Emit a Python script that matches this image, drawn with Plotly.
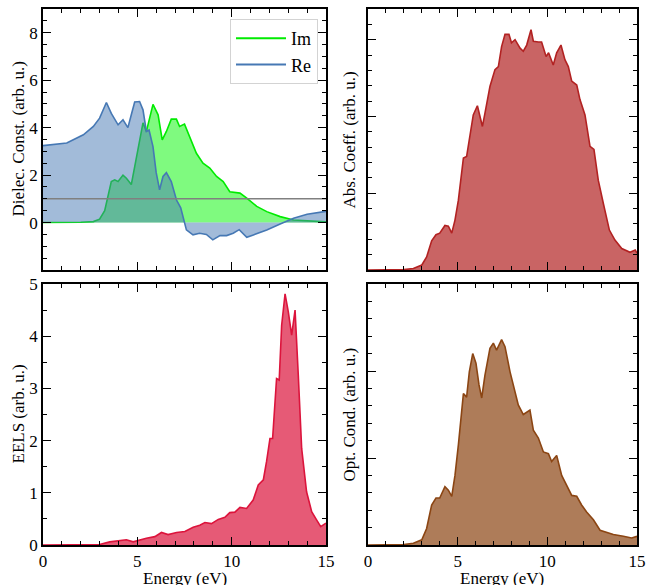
import plotly.graph_objects as go

# ---------------- data ----------------
re_E = [0.0, 1.26, 2.14, 2.67, 3.0, 3.36, 3.62, 3.98, 4.24, 4.5, 4.68, 4.86, 5.12, 5.3, 5.48, 5.62,
        5.83, 6.0, 6.18, 6.36, 6.54, 6.8, 7.07, 7.3, 7.6, 7.95, 8.3, 8.66, 9.0, 9.38, 9.73, 10.08,
        10.4, 10.8, 11.15, 11.86, 12.57, 13.28, 14.0, 15.0]
re_V = [3.24, 3.35, 3.70, 4.05, 4.40, 5.06, 4.60, 4.12, 4.33, 4.00, 4.54, 5.08, 5.10, 4.75, 3.84, 3.90,
        3.20, 2.10, 1.38, 1.94, 2.10, 1.73, 0.96, 0.62, -0.31, -0.52, -0.45, -0.50, -0.73, -0.55, -0.55, -0.45,
        -0.30, -0.62, -0.52, -0.31, -0.06, 0.18, 0.35, 0.47]

im_E = [0.0, 1.0, 2.0, 2.67, 3.0, 3.27, 3.45, 3.62, 3.8, 3.98, 4.24, 4.42, 4.68, 4.86, 5.05, 5.3,
        5.48, 5.66, 5.83, 6.1, 6.32, 6.54, 6.8, 7.07, 7.24, 7.5, 7.77, 8.13, 8.48, 8.84, 9.2, 9.55,
        9.9, 10.44, 10.8, 11.33, 11.86, 12.57, 13.28, 14.0, 15.0]
im_V = [0.0, 0.0, 0.01, 0.04, 0.14, 0.50, 1.20, 1.73, 1.80, 1.73, 2.00, 1.87, 1.60, 2.35, 3.20, 4.20,
        3.84, 4.50, 4.98, 4.54, 3.48, 3.84, 4.36, 4.36, 4.05, 4.15, 3.63, 2.92, 2.50, 2.30, 1.94, 1.73,
        1.30, 1.24, 1.03, 0.68, 0.46, 0.25, 0.11, 0.07, 0.03]

abs_E = [0.0, 1.0, 2.0, 2.53, 3.0, 3.27, 3.55, 3.79, 4.0, 4.29, 4.48, 4.67, 4.85, 5.04, 5.32, 5.5,
         5.69, 5.87, 6.1, 6.2, 6.38, 6.52, 6.8, 7.08, 7.27, 7.45, 7.64, 7.86, 8.0, 8.2, 8.48, 8.66,
         8.85, 9.09, 9.22, 9.5, 9.68, 9.93, 10.07, 10.33, 10.52, 10.76, 10.98, 11.17, 11.36, 11.64,
         11.82, 12.1, 12.38, 12.6, 12.84, 13.12, 13.46, 13.77, 14.15, 14.61, 14.9, 15.0]
abs_V = [0.0, 0.0, 0.005, 0.02, 0.065, 0.17, 0.38, 0.46, 0.48, 0.58, 0.57, 0.48, 0.65, 0.91, 1.46, 1.48,
         1.78, 2.02, 2.14, 2.04, 1.87, 2.04, 2.39, 2.61, 2.65, 2.91, 3.07, 3.07, 2.96, 3.00, 2.89, 2.85,
         2.93, 3.13, 2.98, 2.97, 2.97, 2.78, 2.83, 2.67, 2.83, 2.93, 2.74, 2.65, 2.46, 2.41,
         2.22, 2.02, 1.61, 1.57, 1.17, 0.87, 0.52, 0.39, 0.28, 0.23, 0.26, 0.22]

eels_E = [0.0, 1.0, 2.0, 3.0, 3.54, 3.89, 4.42, 4.78, 5.13, 5.48, 5.93, 6.28, 6.63, 7.08, 7.52, 7.96,
          8.31, 8.58, 8.93, 9.29, 9.64, 9.9, 10.17, 10.44, 10.79, 11.14, 11.41, 11.68, 11.85, 12.03,
          12.17, 12.38, 12.52, 12.65, 12.83, 13.0, 13.18, 13.36, 13.53, 13.71, 13.97, 14.24, 14.5,
          14.72, 15.0]
eels_V = [0.0, 0.0, 0.0, 0.01, 0.06, 0.08, 0.10, 0.06, 0.10, 0.13, 0.16, 0.24, 0.20, 0.24, 0.26, 0.34,
          0.38, 0.43, 0.41, 0.49, 0.53, 0.62, 0.63, 0.72, 0.70, 0.86, 1.15, 1.25, 1.60, 2.04,
          2.04, 3.19, 3.16, 4.21, 4.81, 4.47, 4.02, 4.50, 3.26, 1.85, 1.02, 0.64, 0.48,
          0.35, 0.42]

opt_E = [0.0, 1.0, 2.0, 2.53, 3.0, 3.27, 3.55, 3.79, 4.0, 4.29, 4.48, 4.67, 4.85, 5.04, 5.32, 5.5,
         5.65, 5.84, 6.02, 6.19, 6.34, 6.52, 6.8, 6.99, 7.17, 7.45, 7.64, 7.92, 8.16, 8.38, 8.66,
         8.85, 9.03, 9.22, 9.5, 9.78, 10.06, 10.24, 10.52, 10.8, 11.08, 11.36, 11.64, 11.91, 12.19,
         12.57, 12.94, 13.3, 13.68, 14.24, 14.7, 15.0]
opt_V = [0.0, 0.0, 0.005, 0.02, 0.06, 0.19, 0.46, 0.54, 0.54, 0.67, 0.63, 0.56, 0.80, 1.15, 1.74, 1.70,
         1.99, 2.20, 2.09, 1.84, 1.69, 1.95, 2.26, 2.32, 2.24, 2.36, 2.28, 1.99, 1.80, 1.61, 1.50,
         1.53, 1.55, 1.32, 1.23, 1.07, 1.05, 0.96, 1.03, 0.80, 0.69, 0.57, 0.56, 0.46, 0.38,
         0.29, 0.17, 0.15, 0.12, 0.10, 0.08, 0.10]

x_ticks = [0, 5, 10, 15]
diel_ticks = [0, 2, 4, 6, 8]
eels_ticks = [0, 1, 2, 3, 4, 5]
ref_line = 1.0

# ---------------- figure ----------------
W, H = 648, 585
fig = go.Figure()

def dom_x(a, b):
    return [a / W, b / W]

def dom_y(top, bot):
    return [1 - bot / H, 1 - top / H]

FONT = "Liberation Serif, Times New Roman, serif"
RE_C, IM_C = "rgb(70,120,180)", "rgb(0,235,0)"

fig.add_trace(go.Scatter(x=im_E, y=im_V, mode="lines", fill="tozeroy", showlegend=False,
                         line=dict(color=IM_C, width=1.6),
                         fillcolor="rgba(0,245,0,0.5)", xaxis="x", yaxis="y"))
fig.add_trace(go.Scatter(x=re_E, y=re_V, mode="lines", fill="tozeroy", showlegend=False,
                         line=dict(color=RE_C, width=1.6),
                         fillcolor="rgba(70,120,180,0.5)", xaxis="x", yaxis="y"))
fig.add_trace(go.Scatter(x=[0, 15], y=[ref_line, ref_line], mode="lines", showlegend=False,
                         line=dict(color="gray", width=1.5), xaxis="x", yaxis="y"))
# legend entries (line only)
fig.add_trace(go.Scatter(x=[None], y=[None], mode="lines", name="Im",
                         line=dict(color=IM_C, width=2), xaxis="x", yaxis="y"))
fig.add_trace(go.Scatter(x=[None], y=[None], mode="lines", name="Re",
                         line=dict(color=RE_C, width=2), xaxis="x", yaxis="y"))

fig.add_trace(go.Scatter(x=abs_E, y=abs_V, mode="lines", fill="tozeroy", showlegend=False,
                         line=dict(color="rgb(178,34,34)", width=1.6),
                         fillcolor="rgba(178,34,34,0.7)", xaxis="x2", yaxis="y2"))
fig.add_trace(go.Scatter(x=eels_E, y=eels_V, mode="lines", fill="tozeroy", showlegend=False,
                         line=dict(color="rgb(220,20,60)", width=1.6),
                         fillcolor="rgba(220,20,60,0.7)", xaxis="x3", yaxis="y3"))
fig.add_trace(go.Scatter(x=opt_E, y=opt_V, mode="lines", fill="tozeroy", showlegend=False,
                         line=dict(color="rgb(139,69,19)", width=1.6),
                         fillcolor="rgba(139,69,19,0.7)", xaxis="x4", yaxis="y4"))

def ax(domain, rng, dtick, mdtick, labels, anchor, tickvals=None):
    d = dict(domain=domain, range=rng, dtick=dtick, tick0=0, showticklabels=labels,
             ticks="inside", ticklen=8, tickwidth=1.3, tickcolor="black",
             mirror="allticks", showline=True, linecolor="black", linewidth=1.5,
             showgrid=False, zeroline=False, anchor=anchor, automargin=False,
             tickfont=dict(family=FONT, size=17, color="black"),
             minor=dict(dtick=mdtick, tick0=0, ticks="inside", ticklen=4, tickwidth=1.1,
                        tickcolor="black", showgrid=False))
    if tickvals is not None:
        d["tickmode"] = "array"
        d["tickvals"] = tickvals
    return d

xl, xr = dom_x(43, 326), dom_x(368, 637)
yt, yb = dom_y(9, 270), dom_y(284, 545)

fig.update_layout(
    width=W, height=H, margin=dict(l=0, r=0, t=0, b=0),
    paper_bgcolor="white", plot_bgcolor="white",
    font=dict(family=FONT, size=17, color="black"),
    xaxis=ax(xl, [0, 15], 5, 1, False, "y"),
    yaxis=ax(yt, [-2, 9], 2, 0.5, True, "x", diel_ticks),
    xaxis2=ax(xr, [0, 15], 5, 1, False, "y2"),
    yaxis2=ax(yt, [0, 3.4], 1, 0.2, False, "x2"),
    xaxis3=ax(xl, [0, 15], 5, 1, True, "y3", x_ticks),
    yaxis3=ax(yb, [0, 5], 1, 0.5, True, "x3", eels_ticks),
    xaxis4=ax(xr, [0, 15], 5, 1, True, "y4", x_ticks),
    yaxis4=ax(yb, [0, 3], 1, 0.2, False, "x4"),
    legend=dict(x=318 / W, xanchor="right", y=1 - 19 / H, yanchor="top",
                bordercolor="lightgray", borderwidth=1, bgcolor="rgba(255,255,255,0.8)",
                font=dict(family=FONT, size=18, color="black"), tracegroupgap=0,
                itemwidth=50),
    showlegend=True,
)

def ytitle(text, xpx, top, bot):
    fig.add_annotation(text=text, xref="paper", yref="paper", x=xpx / W, y=1 - (top + bot) / 2 / H,
                       xanchor="center", yanchor="middle", textangle=-90, showarrow=False,
                       font=dict(family=FONT, size=17, color="black"))

ytitle("Dielec. Const. (arb. u.)", 18, 9, 270)
ytitle("Abs. Coeff. (arb. u.)", 349, 9, 270)
ytitle("EELS (arb. u.)", 18, 284, 545)
ytitle("Opt. Cond. (arb. u.)", 349, 284, 545)

for cx in [(43 + 326) / 2, (368 + 637) / 2]:
    fig.add_annotation(text="Energy (eV)", xref="paper", yref="paper", x=cx / W, y=1 - 578 / H,
                       xanchor="center", yanchor="middle", showarrow=False,
                       font=dict(family=FONT, size=17, color="black"))

fig.write_html("out.html", config={"displayModeBar": False},
               post_script="document.body.style.margin='0px';document.body.style.overflow='hidden';")
